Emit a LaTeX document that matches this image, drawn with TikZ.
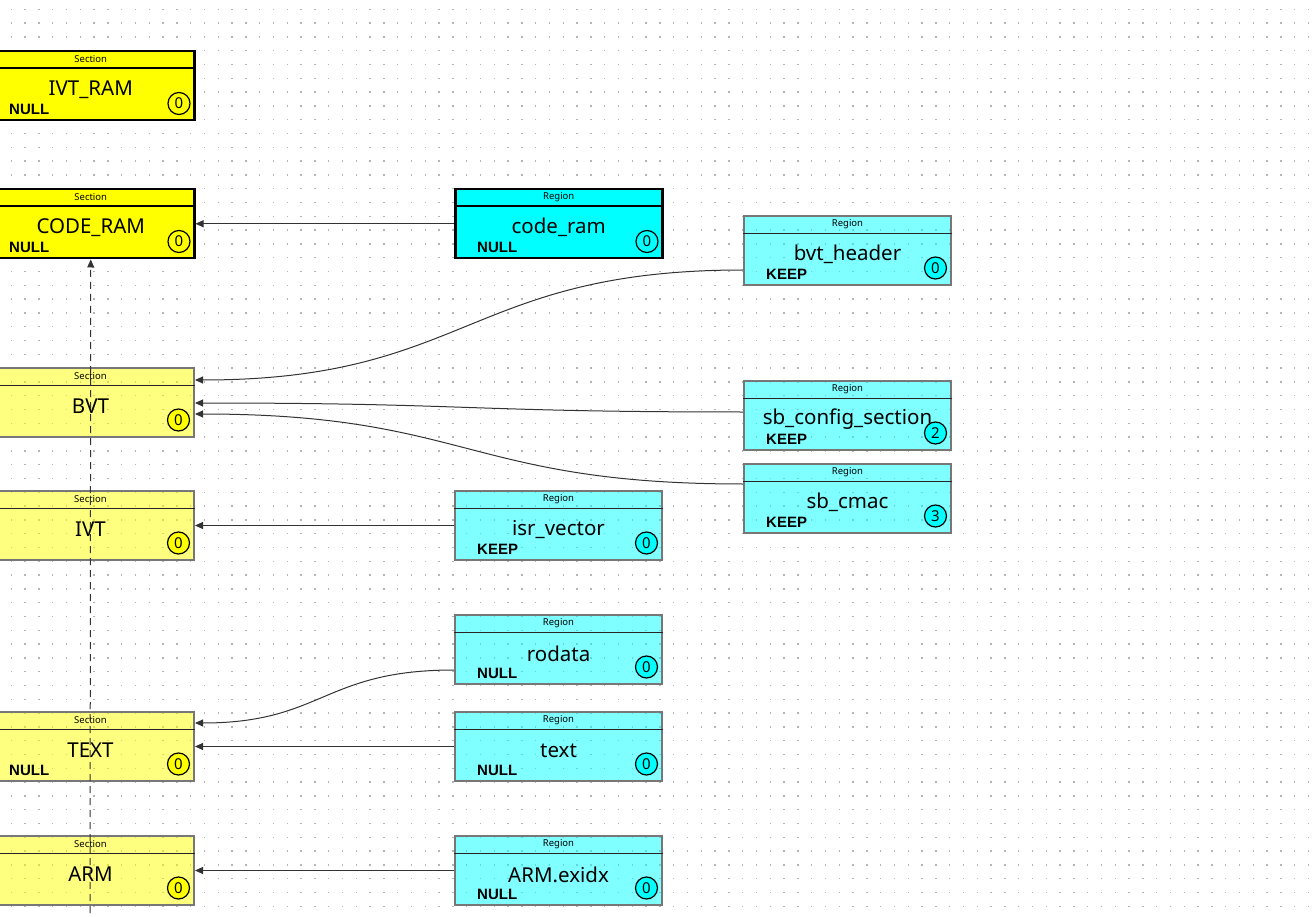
\documentclass[tikz,border=0pt]{standalone}
\usepackage{fontspec}
\setmainfont{Noto Sans}
\newfontfamily\flagfont{Liberation Sans}
\usetikzlibrary{arrows.meta}
\definecolor{bordg}{HTML}{777777}
\definecolor{linec}{HTML}{333333}
\definecolor{dotc}{HTML}{B4B4B4}
\definecolor{yelc}{HTML}{FFFF00}
\definecolor{cyac}{HTML}{00FFFF}
\tikzset{
  secsel/.style={draw=black, line width=2.5pt, fill=yelc},
  sec/.style={draw=bordg, line width=2pt, fill=yelc, fill opacity=0.5},
  regsel/.style={draw=black, line width=2.5pt, fill=cyac},
  reg/.style={draw=bordg, line width=2pt, fill=cyac, fill opacity=0.5},
  secsel-c/.style={},
  sec-c/.style={fill=yelc},
  regsel-c/.style={},
  reg-c/.style={fill=cyac},
  secsel-h/.style={draw=black, line width=2pt},
  sec-h/.style={draw=black!85, line width=1.6pt},
  regsel-h/.style={draw=black, line width=2pt},
  reg-h/.style={draw=black!85, line width=1.6pt},
  kindtxt/.style={font=\fontsize{9.5}{10}\selectfont, inner sep=0pt},
  nametxt/.style={font=\fontsize{20.5}{21}\selectfont, inner sep=0pt},
  flagtxt/.style={font=\flagfont\bfseries\fontsize{15}{15}\selectfont, inner sep=0pt},
  numc/.style={circle, draw=black, line width=1.2pt, minimum size=22pt, inner sep=0pt, font=\fontsize{15}{15}\selectfont},
  conn/.style={draw=linec, line width=1pt, -{Triangle[length=8pt,width=7pt]}},
  dconn/.style={draw=linec, line width=1pt, dash pattern=on 7pt off 5pt, -{Triangle[length=8pt,width=7pt]}}
}
\newcommand\dbox[8]{%
  \node[#8, anchor=north west, minimum width=207pt, minimum height=69pt, inner sep=0pt] (#1) at (#2,#3) {};
  \draw[#8-h] ([yshift=-18.5pt]#1.north west) -- ([yshift=-18.5pt]#1.north east);
  \node[kindtxt] (#1-k) at ([yshift=-9.5pt]#1.north) {#4};
  \node[nametxt] (#1-n) at ([yshift=-39.5pt]#1.north) {#5};
  \node[flagtxt, anchor=west] (#1-f) at ([xshift=23pt,yshift=12pt]#1.south west) {#6};
  \node[numc, #8-c] (#1-c) at ([xshift=-16.5pt,yshift=18pt]#1.south east) {#7};
}
\begin{document}
\begin{tikzpicture}[x=1pt,y=-1pt]
\useasboundingbox (0,0) rectangle (1315,917);
\clip (0,0) rectangle (1315,917);
\fill[white] (0,0) rectangle (1315,917);
\foreach \i in {0,...,95}{\foreach \j in {0,...,66}{\fill[dotc] ({11.3+13.8*\i-0.75},{9.3+13.8*\j-0.75}) rectangle ++(1.5,1.5);}}
\dbox{ivtram}{-14}{50}{Section}{IVT\_RAM}{NULL}{0}{secsel}
\dbox{coderam}{-14}{188}{Section}{CODE\_RAM}{NULL}{0}{secsel}
\dbox{bvt}{-14}{367}{Section}{BVT}{}{0}{sec}
\dbox{ivt}{-14}{490}{Section}{IVT}{}{0}{sec}
\dbox{textsec}{-14}{711}{Section}{TEXT}{NULL}{0}{sec}
\dbox{arm}{-14}{835}{Section}{ARM}{}{0}{sec}
\dbox{coderamr}{454}{188}{Region}{code\_ram}{NULL}{0}{regsel}
\dbox{isr}{454}{490}{Region}{isr\_vector}{KEEP}{0}{reg}
\dbox{rodata}{454}{614}{Region}{rodata}{NULL}{0}{reg}
\dbox{textr}{454}{711}{Region}{text}{NULL}{0}{reg}
\dbox{armex}{454}{835}{Region}{ARM.exidx}{NULL}{0}{reg}
\dbox{bvth}{743}{215}{Region}{bvt\_header}{KEEP}{0}{reg}
\dbox{sbcfg}{743}{380}{Region}{sb\_config\_section}{KEEP}{2}{reg}
\dbox{sbcmac}{743}{463}{Region}{sb\_cmac}{KEEP}{3}{reg}
% connectors
\draw[conn] (coderamr.west) -- (coderam.east);
\draw[conn] (isr.west) -- (ivt.east);
\draw[conn] (textr.west) -- (textsec.east);
\draw[conn] (armex.west) -- (arm.east);
\coordinate (a1) at ([yshift=-55pt]bvth.north west);
\coordinate (b1) at ([yshift=-13pt]bvt.north east);
\draw[conn] (a1) .. controls (468,270) and (468,380) .. (b1);
\coordinate (a2) at ([yshift=-32pt]sbcfg.north west);
\coordinate (b2) at ([yshift=-36pt]bvt.north east);
\draw[conn] (a2) .. controls (468,412) and (468,403) .. (b2);
\coordinate (a3) at ([yshift=-21pt]sbcmac.north west);
\coordinate (b3) at ([yshift=-47pt]bvt.north east);
\draw[conn] (a3) .. controls (468,484) and (468,414) .. (b3);
\coordinate (a4) at ([yshift=-56pt]rodata.north west);
\coordinate (b4) at ([yshift=-12pt]textsec.north east);
\draw[conn] (a4) .. controls (323,670) and (323,723) .. (b4);
\coordinate (dstart) at (90,925);
\draw[dconn] (dstart) -- (coderam.south);
\end{tikzpicture}
\end{document}
